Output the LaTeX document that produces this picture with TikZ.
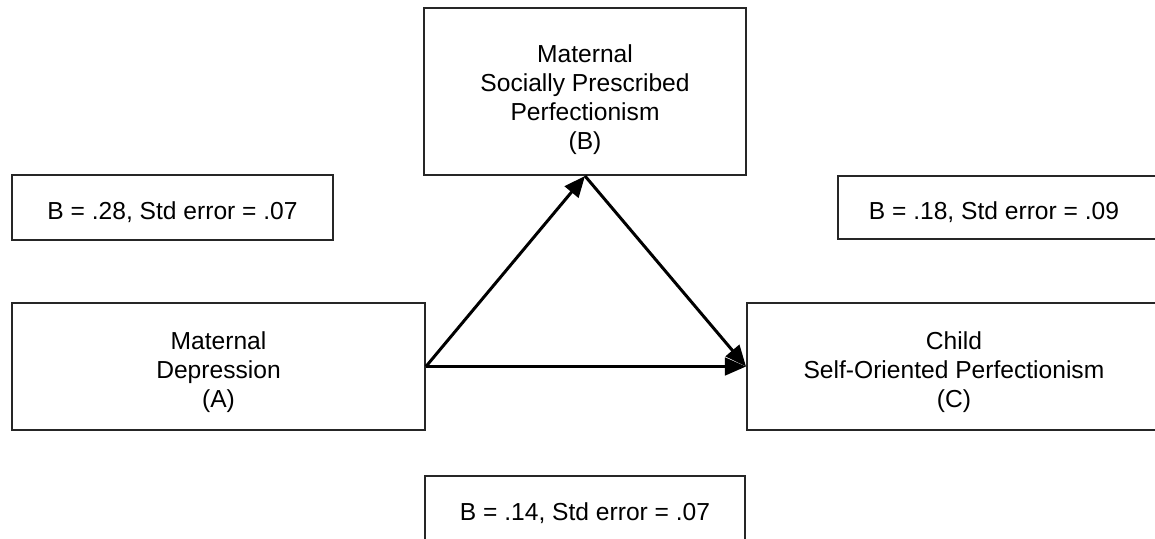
\documentclass[tikz,border=0pt]{standalone}
\usepackage{fontspec}
\setmainfont{Liberation Sans}
\usetikzlibrary{arrows.meta}
\begin{document}
\begin{tikzpicture}[x=0.02cm,y=-0.02cm,
  box/.style={draw=black!85, line width=1.1pt, fill=white, inner sep=0pt, align=center,
    font=\fontsize{14pt}{16.5pt}\selectfont},
  path/.style={line width=1.7pt, -{Triangle[length=12pt,width=10pt]}}]
\clip (0,0) rectangle (1155,538);
\fill[white] (0,0) rectangle (1155,538);
\node[box, minimum width=6.44cm, minimum height=3.34cm] (B) at (585,91.5)
  {\raisebox{-8pt}[0pt][0pt]{\parbox{6cm}{\centering Maternal\\Socially Prescribed\\Perfectionism\\(B)}}};
\node[box, minimum width=6.42cm, minimum height=1.3cm] (lab1) at (172.5,207.5)
  {\raisebox{-7pt}[0pt][0pt]{B = .28, Std error = .07}};
\node[box, minimum width=6.46cm, minimum height=1.26cm, anchor=west] (lab2) at (837,207.5)
  {\hspace*{-0.22cm}\raisebox{-7pt}[0pt][0pt]{B = .18, Std error = .09}};
\node[box, minimum width=8.26cm, minimum height=2.54cm] (A) at (218.5,366.5)
  {\raisebox{-7pt}[0pt][0pt]{\parbox{6cm}{\centering Maternal\\Depression\\(A)}}};
\node[box, minimum width=8.28cm, minimum height=2.54cm, anchor=west] (C) at (746,366.5)
  {\raisebox{-7pt}[0pt][0pt]{\parbox{7cm}{\centering Child\\Self-Oriented Perfectionism\\(C)}}};
\node[box, minimum width=6.4cm, minimum height=1.5cm, anchor=north] (lab3) at (585,475)
  {B = .14, Std error = .07};
\draw[path] (A.east) -- (B.south);
\draw[path] (B.south) -- (C.west);
\draw[path] (A.east) -- (C.west);
\end{tikzpicture}
\end{document}
